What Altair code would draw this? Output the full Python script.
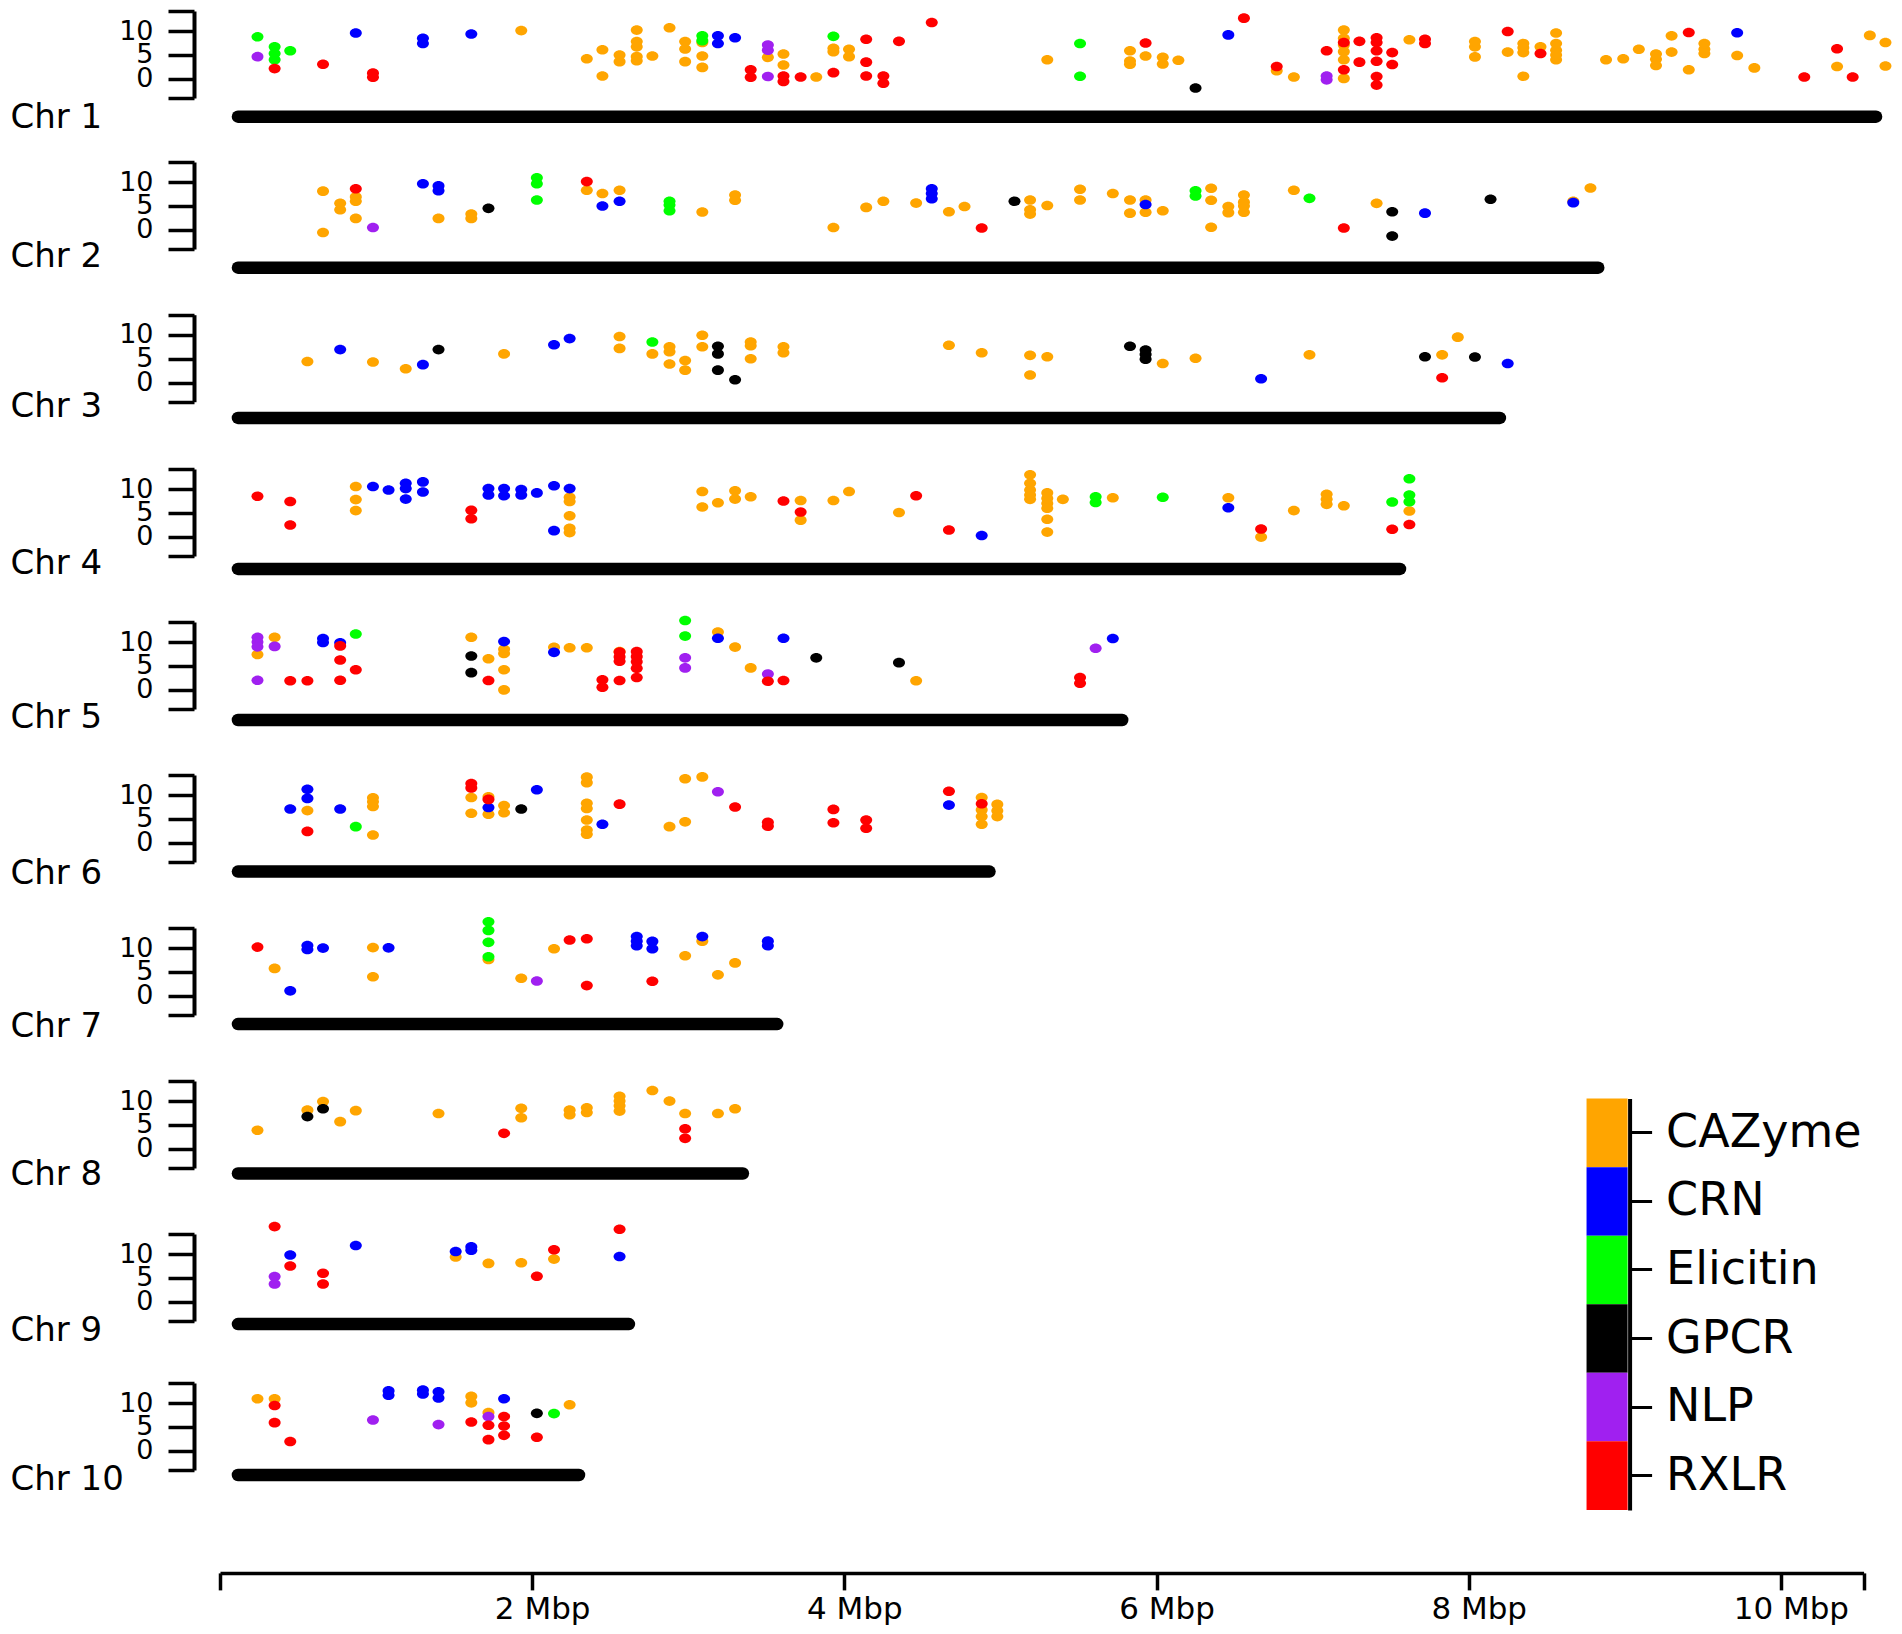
import altair as alt
import pandas as pd

genes = ['CAZyme', 'CRN', 'Elicitin', 'GPCR', 'NLP', 'RXLR']
gene_colors = ['#FFA500', '#0000FF', '#00FF00', '#000000', '#A020F0', '#FF0000']
gene_codes = {'o': 'CAZyme', 'b': 'CRN', 'g': 'Elicitin', 'k': 'GPCR', 'p': 'NLP', 'r': 'RXLR'}

# each row: position in Mbp, gene codes, values on the track's axis
chr1 = [
    (.24, 'gp', [8.8, 4.65]), (.35, 'gggr', [6.7, 5.3, 4.0, 2.15]), (.45, 'g', [5.9]), (.66, 'r', [3.05]),
    (.87, 'b', [9.6]), (.98, 'rr', [1.2, .35]), (1.30, 'bb', [8.5, 7.4]), (1.61, 'b', [9.4]), (1.93, 'o', [10.1]),
    (2.35, 'o', [4.2]), (2.45, 'oo', [6.1, .6]), (2.56, 'oo', [5.0, 3.6]), (2.67, 'ooooo', [10.2, 7.8, 6.7, 4.65, 3.8]),
    (2.77, 'o', [4.8]), (2.88, 'o', [10.7]), (2.98, 'ooo', [7.8, 6.25, 3.6]), (3.09, 'ooogg', [7.6, 4.8, 2.4, 9.0, 8.0]),
    (3.19, 'bb', [9.0, 7.4]), (3.30, 'b', [8.6]), (3.40, 'rr', [1.9, .35]), (3.51, 'ppop', [7.1, 6.0, 4.5, .5]),
    (3.61, 'oorr', [5.2, 2.9, .6, -.55]), (3.72, 'r', [.4]), (3.82, 'o', [.4]), (3.93, 'goor', [8.9, 6.4, 5.7, 1.3]),
    (4.03, 'oo', [6.2, 4.65]), (4.14, 'rrr', [8.3, 3.5, .6]), (4.25, 'rr', [.6, -.9]), (4.35, 'r', [7.85]),
    (4.56, 'r', [11.8]), (5.30, 'o', [4.0]), (5.51, 'gg', [7.4, .55]), (5.83, 'ooo', [5.9, 3.75, 3.05]),
    (5.93, 'ro', [7.5, 4.8]), (6.04, 'oo', [4.5, 3.1]), (6.14, 'o', [3.9]), (6.25, 'k', [-1.9]), (6.46, 'b', [9.2]),
    (6.56, 'r', [12.7]), (6.77, 'or', [1.7, 2.6]), (6.88, 'o', [.4]), (7.09, 'rpp', [5.9, .6, -.2]),
    (7.20, 'oooooorr', [10.2, 8.5, 7.1, 5.7, 4.0, .1, 7.6, 1.9]), (7.30, 'rr', [7.85, 3.5]),
    (7.41, 'rrrrrr', [8.6, 7.6, 5.9, 3.7, .5, -1.3]), (7.51, 'rr', [5.5, 3.0]), (7.62, 'o', [8.2]), (7.72, 'rr', [8.3, 7.4]),
    (8.04, 'ooo', [7.8, 6.7, 4.6]), (8.25, 'ro', [9.9, 5.6]), (8.35, 'oooo', [7.4, 6.5, 5.5, .55]), (8.46, 'or', [6.7, 5.3]),
    (8.56, 'ooooo', [9.6, 7.4, 6.0, 5.0, 4.0]), (8.88, 'o', [4.0]), (8.99, 'o', [4.2]), (9.09, 'o', [6.2]),
    (9.20, 'ooo', [5.2, 4.1, 2.8]), (9.30, 'oo', [9.0, 5.6]), (9.41, 'ro', [9.7, 1.9]), (9.51, 'ooo', [7.4, 6.2, 5.3]),
    (9.72, 'bo', [9.65, 4.9]), (9.83, 'o', [2.3]), (10.15, 'r', [.4]), (10.36, 'ro', [6.3, 2.6]), (10.46, 'r', [.4]),
    (10.57, 'o', [9.1]), (10.67, 'oo', [7.6, 2.7]),
]
chr2 = [
    (.66, 'oo', [8.1, -.55]), (.77, 'oo', [5.55, 4.2]), (.87, 'rooo', [8.6, 6.9, 6.0, 2.4]), (.98, 'p', [.5]),
    (1.30, 'b', [9.65]), (1.40, 'bbo', [9.2, 8.2, 2.4]), (1.61, 'oo', [3.3, 2.4]), (1.72, 'k', [4.5]),
    (2.03, 'ggg', [10.9, 9.65, 6.25]), (2.35, 'ro', [10.1, 8.3]), (2.45, 'ob', [7.6, 5.0]), (2.56, 'ob', [8.3, 6.0]),
    (2.88, 'ggg', [6.0, 5.2, 4.0]), (3.09, 'o', [3.75]), (3.30, 'oo', [7.3, 6.2]), (3.93, 'o', [.5]), (4.14, 'o', [4.7]),
    (4.25, 'o', [6.0]), (4.46, 'o', [5.6]), (4.56, 'bbb', [8.6, 7.6, 6.5]), (4.67, 'o', [3.8]), (4.77, 'o', [4.9]),
    (4.88, 'r', [.4]), (5.09, 'k', [6.0]), (5.19, 'ooo', [6.25, 4.2, 3.3]), (5.30, 'o', [5.1]), (5.51, 'oo', [8.5, 6.25]),
    (5.72, 'o', [7.6]), (5.83, 'oo', [6.25, 3.5]), (5.93, 'obo', [6.25, 5.3, 3.7]), (6.04, 'o', [4.0]),
    (6.25, 'gg', [8.2, 7.1]), (6.35, 'ooo', [8.7, 6.2, .55]), (6.46, 'oo', [4.9, 3.6]), (6.56, 'oooo', [7.3, 5.8, 5.0, 3.7]),
    (6.88, 'o', [8.3]), (6.98, 'g', [6.6]), (7.20, 'r', [.4]), (7.41, 'o', [5.55]), (7.51, 'kk', [3.8, -1.3]),
    (7.72, 'b', [3.5]), (8.14, 'k', [6.4]), (8.67, 'ob', [6.0, 5.7]), (8.78, 'o', [8.75]),
]
chr3 = [
    (.56, 'o', [4.4]), (.77, 'b', [6.9]), (.98, 'o', [4.3]), (1.19, 'o', [2.9]), (1.30, 'b', [3.75]), (1.40, 'k', [6.9]),
    (1.82, 'o', [6.0]), (2.14, 'b', [7.9]), (2.24, 'b', [9.2]), (2.56, 'oo', [9.65, 7.15]), (2.77, 'go', [8.5, 6.0]),
    (2.88, 'ooo', [7.5, 6.45, 3.9]), (2.98, 'oo', [4.6, 2.6]), (3.09, 'oo', [9.9, 7.5]), (3.19, 'kkk', [7.6, 6.0, 2.6]),
    (3.30, 'k', [.6]), (3.40, 'ooo', [8.5, 7.7, 5.0]), (3.61, 'oo', [7.5, 6.25]), (4.67, 'o', [7.8]), (4.88, 'o', [6.25]),
    (5.19, 'oo', [5.7, 1.6]), (5.30, 'o', [5.4]), (5.83, 'k', [7.6]), (5.93, 'kkk', [6.8, 5.9, 4.9]), (6.04, 'o', [4.0]),
    (6.25, 'o', [5.1]), (6.67, 'b', [.8]), (6.98, 'o', [5.8]), (7.72, 'k', [5.4]), (7.83, 'or', [5.8, 1.0]),
    (7.93, 'o', [9.5]), (8.04, 'k', [5.35]), (8.25, 'b', [4.0]),
]
chr4 = [
    (.24, 'r', [8.5]), (.45, 'rr', [7.4, 2.5]), (.87, 'ooo', [10.55, 7.8, 5.5]), (.98, 'b', [10.55]), (1.08, 'b', [9.8]),
    (1.19, 'bbb', [11.2, 10.1, 7.9]), (1.30, 'bb', [11.5, 9.4]), (1.61, 'rr', [5.55, 3.8]), (1.72, 'bb', [10.1, 8.75]),
    (1.82, 'bb', [10.1, 8.6]), (1.93, 'bb', [9.9, 8.75]), (2.03, 'b', [9.2]), (2.14, 'bb', [10.7, 1.3]),
    (2.24, 'booooo', [10.1, 8.3, 7.4, 4.4, 1.8, .9]), (3.09, 'oo', [9.5, 6.25]), (3.19, 'o', [7.15]), (3.30, 'oo', [9.65, 7.9]),
    (3.40, 'o', [8.4]), (3.61, 'r', [7.5]), (3.72, 'oro', [7.6, 5.2, 3.5]), (3.93, 'o', [7.6]), (4.03, 'o', [9.5]),
    (4.35, 'o', [5.1]), (4.46, 'r', [8.6]), (4.67, 'r', [1.45]), (4.88, 'b', [.3]), (5.19, 'ooooo', [13.0, 11.2, 9.8, 8.75, 7.85]),
    (5.30, 'oooooo', [9.2, 8.05, 7.0, 6.0, 3.7, 1.0]), (5.40, 'o', [7.85]), (5.61, 'gg', [8.4, 7.2]), (5.72, 'o', [8.2]),
    (6.04, 'g', [8.3]), (6.46, 'ob', [8.2, 6.1]), (6.67, 'ro', [1.65, -.05]), (6.88, 'o', [5.5]), (7.09, 'ooo', [8.9, 7.85, 6.8]),
    (7.20, 'o', [6.5]), (7.51, 'gr', [7.3, 1.6]), (7.62, 'gggor', [12.15, 8.75, 7.35, 5.4, 2.6]),
]
chr5 = [
    (.24, 'pppop', [11.0, 10.0, 9.0, 7.4, 2.0]), (.35, 'op', [11.0, 9.1]), (.45, 'r', [1.9]), (.56, 'r', [1.9]), (.66, 'bb', [10.75, 9.9]),
    (.77, 'brrr', [9.85, 9.2, 6.25, 2.0]), (.87, 'gr', [11.7, 4.2]), (1.61, 'okk', [11.0, 7.1, 3.6]), (1.72, 'or', [6.5, 1.95]),
    (1.82, 'boooo', [10.1, 8.5, 7.6, 4.2, 0.0]), (2.14, 'ob', [8.9, 7.85]), (2.24, 'o', [8.8]), (2.35, 'o', [8.8]),
    (2.45, 'rr', [2.1, .55]), (2.56, 'orrrr', [8.0, 7.9, 6.9, 6.0, 1.95]), (2.67, 'rrrrr', [8.0, 6.95, 5.9, 4.5, 2.6]),
    (2.98, 'ggpp', [14.5, 11.25, 6.7, 4.6]), (3.19, 'ob', [12.1, 10.8]), (3.30, 'o', [8.95]), (3.40, 'o', [4.6]),
    (3.51, 'pr', [3.3, 1.8]), (3.61, 'br', [10.8, 1.95]), (3.82, 'k', [6.7]), (4.35, 'k', [5.7]), (4.46, 'o', [1.9]),
    (5.51, 'rr', [2.6, 1.4]), (5.61, 'p', [8.7]), (5.72, 'b', [10.75]),
]
chr6 = [
    (.45, 'b', [7.1]), (.56, 'bbor', [11.2, 9.3, 6.75, 2.4]), (.77, 'b', [7.1]), (.87, 'g', [3.4]), (.98, 'oooo', [9.45, 8.6, 7.6, 1.65]),
    (1.61, 'rroo', [12.4, 11.5, 9.5, 6.2]), (1.72, 'orbo', [9.65, 9.1, 7.4, 6.0]), (1.82, 'oo', [7.8, 6.3]), (1.93, 'k', [7.1]),
    (2.03, 'b', [11.1]), (2.35, 'ooooooo', [13.75, 12.6, 8.3, 7.2, 4.8, 2.7, 1.8]), (2.45, 'b', [3.9]), (2.56, 'r', [8.1]),
    (2.88, 'o', [3.4]), (2.98, 'oo', [4.4, 13.4]), (3.09, 'o', [13.8]), (3.19, 'p', [10.7]), (3.30, 'r', [7.5]), (3.51, 'rr', [4.3, 3.5]),
    (3.93, 'rr', [7.0, 4.2]), (4.14, 'rr', [4.8, 3.05]), (4.67, 'rb', [10.8, 7.9]), (4.88, 'orooo', [9.5, 8.2, 6.9, 5.5, 3.9]),
    (4.98, 'ooo', [8.05, 6.7, 5.5]),
]
chr7 = [
    (.24, 'r', [10.2]), (.35, 'o', [5.75]), (.45, 'b', [1.05]), (.56, 'bb', [10.55, 9.7]), (.66, 'b', [10.0]), (.98, 'oo', [10.1, 4.0]),
    (1.08, 'b', [10.05]), (1.72, 'ggggo', [15.5, 13.7, 11.2, 8.2, 7.6]), (1.93, 'o', [3.7]), (2.03, 'p', [3.1]), (2.14, 'o', [9.85]),
    (2.24, 'r', [11.7]), (2.35, 'rr', [11.95, 2.15]), (2.67, 'bbb', [12.4, 11.45, 10.5]), (2.77, 'bbr', [11.4, 9.85, 3.05]),
    (2.98, 'o', [8.4]), (3.09, 'ob', [11.45, 12.4]), (3.19, 'o', [4.4]), (3.30, 'o', [6.9]), (3.51, 'bb', [11.45, 10.5]),
]
chr8 = [
    (.24, 'o', [3.9]), (.56, 'ok', [8.1, 6.75]), (.66, 'ok', [9.9, 8.4]), (.77, 'o', [5.7]), (.87, 'o', [8.0]), (1.40, 'o', [7.4]),
    (1.82, 'r', [3.25]), (1.93, 'oo', [8.5, 6.5]), (2.24, 'oo', [8.1, 7.15]), (2.35, 'oo', [8.6, 7.6]),
    (2.56, 'oooo', [11.0, 10.0, 9.0, 7.9]), (2.77, 'o', [12.2]), (2.88, 'o', [10.0]), (2.98, 'orr', [7.4, 4.2, 2.2]),
    (3.19, 'o', [7.4]), (3.30, 'o', [8.4]),
]
chr9 = [
    (.35, 'rpp', [15.75, 5.3, 3.75]), (.45, 'br', [9.8, 7.5]), (.66, 'rr', [6.0, 3.75]), (.87, 'b', [11.8]), (1.51, 'ob', [9.4, 10.55]),
    (1.61, 'bb', [11.5, 10.8]), (1.72, 'o', [8.05]), (1.93, 'o', [8.2]), (2.03, 'r', [5.35]), (2.14, 'ro', [10.9, 8.95]),
    (2.56, 'rb', [15.2, 9.5]),
]
chr10 = [
    (.24, 'o', [10.9]), (.35, 'orr', [10.9, 9.5, 5.9]), (.45, 'r', [1.95]), (.98, 'p', [6.45]), (1.08, 'bb', [12.55, 11.65]),
    (1.30, 'bb', [12.7, 11.9]), (1.40, 'bbp', [12.35, 11.05, 5.5]), (1.61, 'oor', [11.4, 10.05, 6.05]),
    (1.72, 'oprr', [8.0, 7.2, 5.35, 2.35]), (1.82, 'brrr', [10.9, 7.2, 5.2, 3.25]), (2.03, 'kr', [7.85, 2.85]),
    (2.14, 'g', [7.8]), (2.24, 'o', [9.65]),
]
tracks = [chr1, chr2, chr3, chr4, chr5, chr6, chr7, chr8, chr9, chr10]
track_names = ['Chr 1', 'Chr 2', 'Chr 3', 'Chr 4', 'Chr 5', 'Chr 6', 'Chr 7', 'Chr 8', 'Chr 9', 'Chr 10']

# chromosome bars, in Mbp
bar_start = 0.115
bar_end = [10.61, 8.83, 8.20, 7.56, 5.78, 4.93, 3.57, 3.35, 2.62, 2.30]
bar_y = [-7.9, -7.9, -7.4, -6.7, -6.3, -6.0, -5.9, -5.15, -4.65, -5.05]
label_x = -1.342
label_y = [-10.2, -7.7, -7.25, -7.7, -8.0, -8.5, -8.5, -7.5, -8.1, -8.1]

panel_width = 1643.6
panel_height = 87
y_min, y_max = -4, 14.2
# the tracks are not evenly spaced, so each y range is nudged inside its panel
track_shift = [0, -1, -.3, 2, 3, 4, 5, 6, 7, 4]

color = alt.Color('gene:N', scale=alt.Scale(domain=genes, range=gene_colors), legend=None)
ellipse = 'M-1,0A1,0.8 0 1,1 1,0A1,0.8 0 1,1 -1,0Z'


def make_track(i):
    rows = [(x, gene_codes[c], y) for x, codes, ys in tracks[i] for c, y in zip(codes, ys)]
    points = pd.DataFrame(rows, columns=['x', 'gene', 'y'])
    points['order'] = points['gene'].map(genes.index)
    points = points.sort_values('order')

    if i == 9:
        x_axis = alt.Axis(
            values=[0, 2, 4, 6, 8, 10, 10.53], title=None, grid=False, offset=106.9,
            labelExpr="datum.value >= 2 && datum.value <= 10 ? datum.value + ' Mbp' : ''",
            labelFontSize=31, labelPadding=5, labelOffset=10, tickSize=17, tickWidth=3.5, domainWidth=3.5,
            labelOverlap=False, labelFlush=False, labelBound=False,
        )
    else:
        x_axis = None
    x_enc = alt.X('x:Q', scale=alt.Scale(domain=[0, 10.53], nice=False), axis=x_axis)

    y_enc = alt.Y(
        'y:Q',
        scale=alt.Scale(domain=[y_min, y_max], nice=False, zero=False,
                        range=[panel_height + track_shift[i], track_shift[i]]),
        axis=alt.Axis(
            values=[y_min, 0, 5, 10, y_max], title=None, grid=False, offset=26,
            labelExpr="datum.value >= 0 && datum.value <= 10 ? datum.value : ''",
            labelFontSize={'condition': {'test': 'datum.value < 0 || datum.value > 10', 'value': 0}, 'value': 27},
            labelPadding=15, tickSize=26, tickWidth=3.5, domainWidth=4,
            labelOverlap=False, labelBound=False,
        ),
    )

    bar = alt.Chart(pd.DataFrame({'x': [bar_start], 'x2': [bar_end[i]], 'y': [bar_y[i]]})).mark_rule(
        color='black', strokeWidth=12.5, strokeCap='round'
    ).encode(x=x_enc, x2='x2:Q', y=y_enc)

    label = alt.Chart(pd.DataFrame({'x': [label_x], 'y': [label_y[i]], 'name': [track_names[i]]})).mark_text(
        align='left', baseline='alphabetic', fontSize=34, font='DejaVu Sans', color='black'
    ).encode(x=x_enc, y=y_enc, text='name:N')

    dots = alt.Chart(points).mark_point(filled=True, opacity=1, size=144, shape=ellipse).encode(
        x=x_enc, y=y_enc, color=color
    )
    return bar, label, dots


# colour key, hung on the panel of Chr 8
legend_df = pd.DataFrame({'gene': genes, 'x': [8.755] * 6, 'x2': [9.018] * 6})
legend_key = alt.Chart(legend_df).mark_rect().encode(
    x=alt.X('x:Q', scale=alt.Scale(domain=[0, 10.53], nice=False), axis=None),
    x2='x2:Q',
    y=alt.Y(
        'gene:N', sort=genes,
        scale=alt.Scale(domain=genes, range=[23.6, 434.9], paddingInner=0, paddingOuter=0),
        axis=alt.Axis(
            orient='right', offset=-234, title=None, grid=False, labelFontSize=46, labelPadding=14,
            tickSize=22, tickWidth=3, domainWidth=4, labelLimit=400,
        ),
    ),
    color=color,
)

panels = []
for i in range(10):
    bar, label, dots = make_track(i)
    if i == 7:
        panel = alt.layer(alt.layer(bar, label, dots), legend_key).resolve_scale(y='independent')
    else:
        panel = alt.layer(bar, label, dots)
    panels.append(panel.properties(width=panel_width, height=panel_height))

chart = alt.vconcat(*panels, spacing=65, bounds='flush').properties(
    padding={'left': 2, 'top': 1, 'right': 0, 'bottom': 6}, background='white'
).configure_view(stroke=None).configure_axis(
    labelFont='DejaVu Sans', labelColor='black', domainColor='black', tickColor='black'
)

chart.save("out.html", embed_options={"renderer": "svg", "actions": False})
